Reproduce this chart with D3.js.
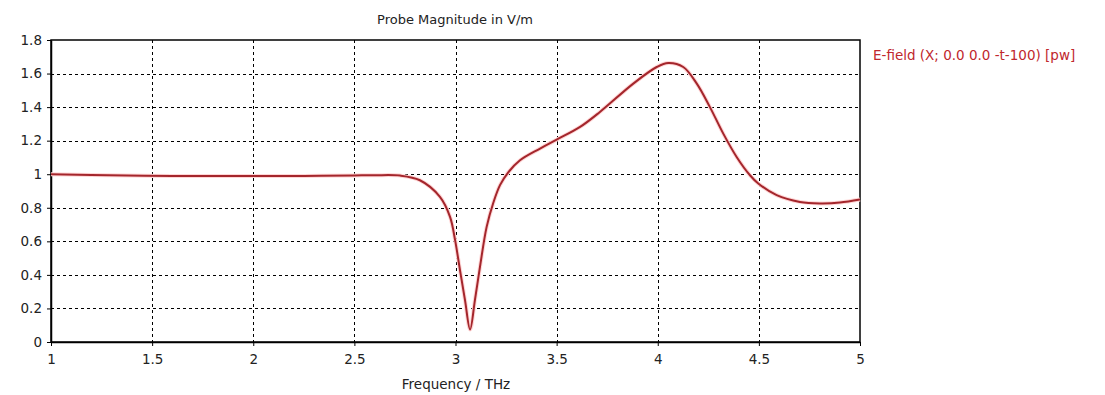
<!DOCTYPE html>
<html>
<head>
<meta charset="utf-8">
<script src="https://cdn.jsdelivr.net/npm/d3@7"></script>
<style>
    body { margin: 0; background: #fff; }
    text { font-family: "DejaVu Sans", sans-serif; }
</style>
</head>
<body>
<div id="graph"></div>
<script>
/*
    Probe magnitude plot
*/

// Frequency in THz
var freq = [1.0, 1.2, 1.6, 2.0, 2.25, 2.5, 2.6, 2.726, 2.824, 2.923, 2.973, 2.998, 3.022, 3.047, 3.072,
            3.096, 3.121, 3.154, 3.187, 3.22, 3.26, 3.319, 3.418, 3.5, 3.616, 3.714, 3.879, 3.995,
            4.052, 4.126, 4.193, 4.258, 4.324, 4.39, 4.456, 4.497, 4.588, 4.703, 4.802, 4.901, 5.0]

// Magnitude in V/m
var magnitude = [1.0, 0.995, 0.99, 0.99, 0.99, 0.993, 0.994, 0.992, 0.964, 0.865, 0.746, 0.607, 0.43, 0.25, 0.075,
                 0.25, 0.448, 0.686, 0.83, 0.935, 1.01, 1.083, 1.153, 1.206, 1.282, 1.371, 1.54, 1.639,
                 1.663, 1.639, 1.54, 1.40, 1.242, 1.103, 0.994, 0.945, 0.875, 0.835, 0.826, 0.831, 0.849]

var xTicks = [1, 1.5, 2, 2.5, 3, 3.5, 4, 4.5, 5]
var yTicks = [0, 0.2, 0.4, 0.6, 0.8, 1, 1.2, 1.4, 1.6, 1.8]

var data = freq.map(function (f, i) { return { f: f, v: magnitude[i] } })

var margin = {top: 40, right: 245, bottom: 53, left: 51},
    width = 1105 - margin.left - margin.right,
    height = 395 - margin.top - margin.bottom

var svgRoot = d3.select("#graph").append("svg")
    .attr("width", 1105)
    .attr("height", 395)

var svg = svgRoot.append("g")
    .attr("transform", "translate(" + margin.left + "," + margin.top + ")")

var x = d3.scaleLinear().domain([1, 5]).range([0, width]),
    y = d3.scaleLinear().domain([0, 1.8]).range([height, 0])

// grid
svg.append("g").selectAll("line")
    .data(xTicks.slice(1, -1))
    .enter().append("line")
    .attr("x1", function (d) { return Math.round(x(d)) + 0.5 })
    .attr("x2", function (d) { return Math.round(x(d)) + 0.5 })
    .attr("y1", 0).attr("y2", height)
    .attr("stroke", "#000").attr("stroke-dasharray", "3,3")

svg.append("g").selectAll("line")
    .data(yTicks.slice(1, -1))
    .enter().append("line")
    .attr("y1", function (d) { return Math.round(y(d)) + 0.5 })
    .attr("y2", function (d) { return Math.round(y(d)) + 0.5 })
    .attr("x1", 0).attr("x2", width)
    .attr("stroke", "#000").attr("stroke-dasharray", "3,3")

// axes
svg.append("g")
    .attr("transform", "translate(0," + height + ")")
    .call(d3.axisBottom(x).tickValues(xTicks).tickFormat(d3.format("")).tickSizeInner(4).tickSizeOuter(0).tickPadding(8))
svg.append("g")
    .call(d3.axisLeft(y).tickValues(yTicks).tickFormat(d3.format("")).tickSizeInner(4).tickSizeOuter(0).tickPadding(5))

svg.selectAll(".domain").attr("stroke", "#000").attr("stroke-width", 1.5)
svg.selectAll(".tick text").attr("font-size", 13.5).attr("fill", "#222")

// frame top/right
svg.append("rect")
    .attr("x", 0).attr("y", 0)
    .attr("width", width).attr("height", height)
    .attr("fill", "none").attr("stroke", "#000").attr("stroke-width", 1.5)

// curve
var line = d3.line()
    .x(function (d) { return x(d.f) })
    .y(function (d) { return y(d.v) })
    .curve(d3.curveCatmullRom.alpha(0.5))

svg.append("path")
    .datum(data)
    .attr("fill", "none")
    .attr("stroke", "#ffd6d6")
    .attr("stroke-width", 4)
    .attr("d", line)

svg.append("path")
    .datum(data)
    .attr("fill", "none")
    .attr("stroke", "#a4262c")
    .attr("stroke-width", 2)
    .attr("d", line)

// labels
svgRoot.append("text")
    .attr("x", 455).attr("y", 24)
    .attr("text-anchor", "middle")
    .attr("font-size", 13).attr("fill", "#222")
    .text("Probe Magnitude in V/m")

svgRoot.append("text")
    .attr("x", 456).attr("y", 389)
    .attr("text-anchor", "middle")
    .attr("font-size", 13.5).attr("fill", "#222")
    .text("Frequency / THz")

svgRoot.append("text")
    .attr("x", 873).attr("y", 60)
    .attr("font-size", 13.5).attr("fill", "#c0272d")
    .text("E-field (X; 0.0 0.0 -t-100) [pw]")
</script>
</body>
</html>
